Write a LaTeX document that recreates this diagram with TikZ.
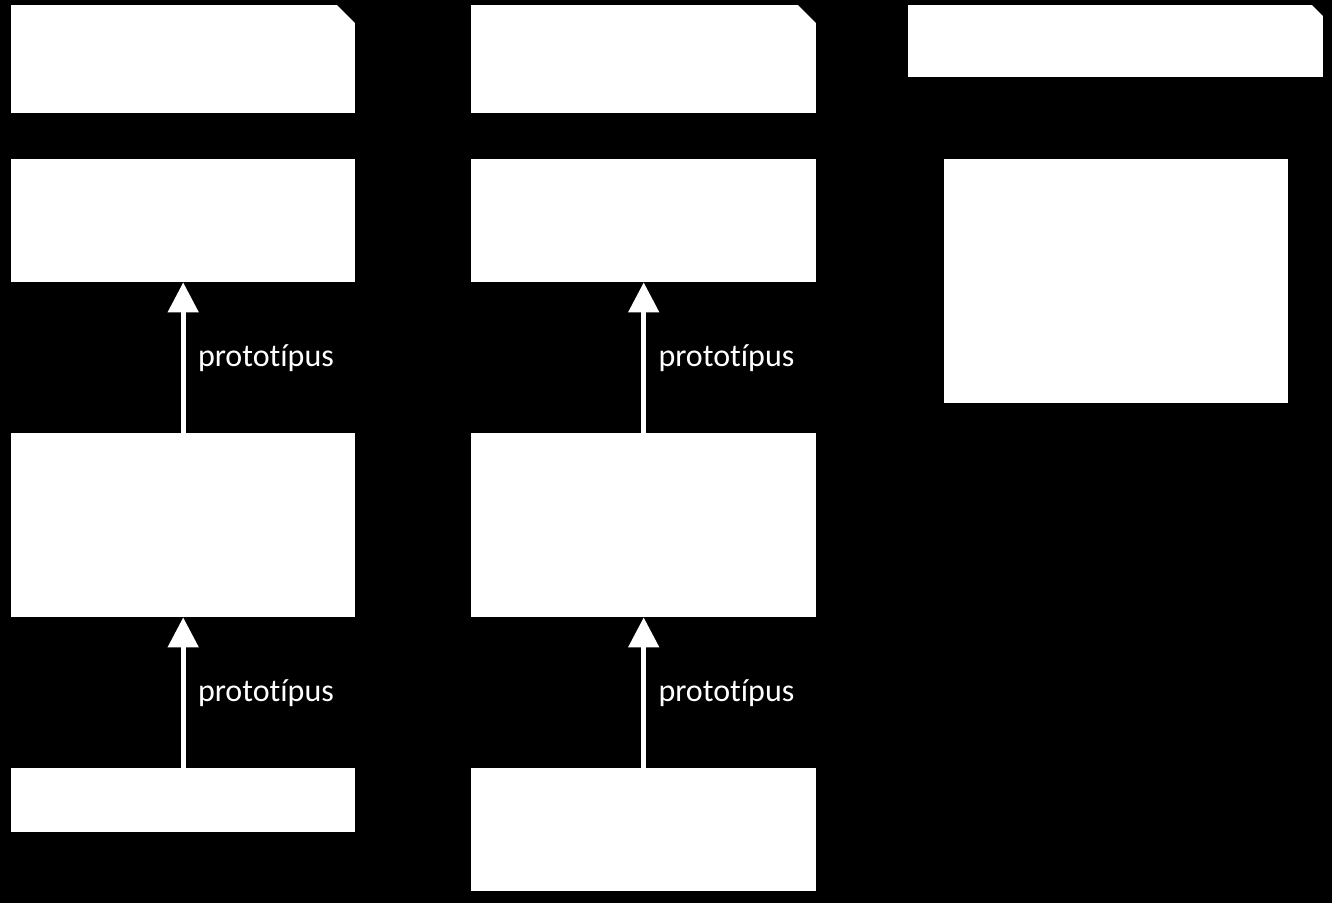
\documentclass[tikz,border=0pt]{standalone}
\usepackage{fontspec}
\setmainfont[Ligatures={NoCommon}]{Carlito}
\usetikzlibrary{arrows.meta, positioning, calc}

\begin{document}
\begin{tikzpicture}[x=1pt, y=-1pt, every text node part/.style={align=center}]

\tikzstyle{box}=[fill=white, inner sep=0pt, anchor=north west]
\tikzstyle{arr}=[draw=white, line width=5pt, -{Triangle[width=30pt, length=30pt]}]
\tikzstyle{lab}=[right=9pt, text=white, font=\fontsize{32}{38}\selectfont]
\tikzset{note/.style={box, path picture={
    \fill[black] ($(path picture bounding box.north east) + (-#1, 0)$)
        -- (path picture bounding box.north east) -- ++(0, -#1) -- cycle;}},
  note/.default=18pt}

\fill[black] (0, 0) rectangle (1332, 903);

\node (a1) [note, minimum width=344pt, minimum height=108pt] at (11, 5) {};
\node (b1) [box, minimum width=344pt, minimum height=123pt] at (11, 159) {};
\node (c1) [box, minimum width=344pt, minimum height=184pt] at (11, 433) {};
\node (d1) [box, minimum width=344pt, minimum height=64pt] at (11, 768) {};

\node (a2) [note, minimum width=345pt, minimum height=108pt] at (471, 5) {};
\node (b2) [box, minimum width=345pt, minimum height=123pt] at (471, 159) {};
\node (c2) [box, minimum width=345pt, minimum height=184pt] at (471, 433) {};
\node (d2) [box, minimum width=345pt, minimum height=123pt] at (471, 768) {};

\node (a3) [note=11pt, minimum width=415pt, minimum height=72pt] at (908, 5) {};
\node (b3) [box, minimum width=344pt, minimum height=244pt] at (944, 159) {};

\path [arr] (c1) -- node [lab] {prototípus} (b1);
\path [arr] (d1) -- node [lab] {prototípus} (c1);
\path [arr] (c2) -- node [lab] {prototípus} (b2);
\path [arr] (d2) -- node [lab] {prototípus} (c2);

\end{tikzpicture}
\end{document}
